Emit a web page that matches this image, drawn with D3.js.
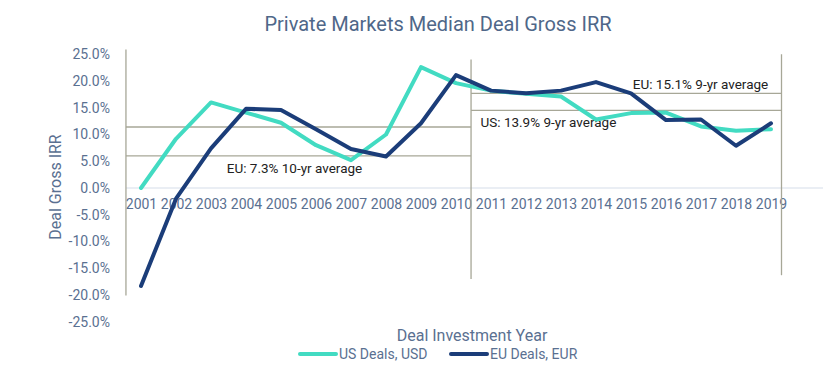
<!DOCTYPE html>
<html>
<head>
<meta charset="utf-8">
<script src="https://cdn.jsdelivr.net/npm/d3@7"></script>
<style>
  body { margin: 0; background: #fff; }
  svg text { font-family: Roboto, "Noto Sans", sans-serif; }
</style>
</head>
<body>
<svg id="chart" width="827" height="374"></svg>
<script>
var years = [2001, 2002, 2003, 2004, 2005, 2006, 2007, 2008, 2009, 2010,
  2011, 2012, 2013, 2014, 2015, 2016, 2017, 2018, 2019];
var usDeals = [0.0, 9.2, 16.0, 14.1, 12.2, 8.0, 5.2, 10.0, 22.6, 19.6,
  18.2, 17.6, 17.1, 12.8, 14.0, 14.1, 11.5, 10.7, 11.0];
var euDeals = [-18.3, -2.0, 7.4, 14.8, 14.6, 11.0, 7.3, 5.9, 12.1, 21.1,
  18.2, 17.7, 18.2, 19.8, 17.7, 12.7, 12.8, 7.9, 12.1];
var yTicks = [-25, -20, -15, -10, -5, 0, 5, 10, 15, 20, 25];

// average lines, drawn where the source picture puts them
var avgFrom = [2000.57, 2000.57, 2010.43, 2010.43];
var avgTo = [2010.43, 2010.43, 2019.3, 2019.3];
var avgLevel = [11.4, 6.0, 17.7, 14.5];
// period boundaries (year position, top and bottom value)
var boundYear = [2000.57, 2010.43, 2019.3];
var boundTop = [25.9, 24.0, 25.0];
var boundBottom = [-20.1, -17.0, -16.3];

var avgLabels = [
  { text: "EU: 7.3% 10-yr average", year: 2003.45, level: 2.75 },
  { text: "EU: 15.1% 9-yr average", year: 2015.05, level: 18.55 },
  { text: "US: 13.9% 9-yr average", year: 2010.7, level: 11.35 }
];

var seriesNames = ["US Deals, USD", "EU Deals, EUR"];
var colors = ["#42dbc2", "#1b3d79"];

var svg = d3.select("#chart");
var width = +svg.attr("width");

var x = d3.scaleLinear().domain([2001, 2019]).range([141, 771]);
var y = d3.scaleLinear().domain([-25, 25]).range([321.75, 54.25]);

var textColor = "#5a7091";

// title
svg.append("text")
  .attr("x", 438)
  .attr("y", 31)
  .attr("text-anchor", "middle")
  .style("font-size", "20px")
  .style("fill", "#4f6789")
  .text("Private Markets Median Deal Gross IRR");

// zero line
svg.append("line")
  .attr("x1", x(boundYear[0]))
  .attr("x2", width - 4)
  .attr("y1", y(0))
  .attr("y2", y(0))
  .style("stroke", "#d6dee9")
  .style("stroke-width", 1.2);

// y axis
var yAxis = svg.append("g")
  .attr("transform", "translate(" + x(boundYear[0]) + ",0)")
  .call(d3.axisLeft(y)
    .tickValues(yTicks)
    .tickSize(0)
    .tickPadding(16)
    .tickFormat(function (d) { return d.toFixed(1) + "%"; }));
yAxis.select(".domain").remove();
yAxis.selectAll("text")
  .style("font-size", "14px")
  .style("fill", textColor);

// x axis
var xAxis = svg.append("g")
  .attr("transform", "translate(0," + y(0) + ")")
  .call(d3.axisBottom(x)
    .tickValues(years)
    .tickSize(0)
    .tickPadding(11)
    .tickFormat(d3.format("d")));
xAxis.select(".domain").remove();
xAxis.selectAll("text")
  .style("font-size", "14px")
  .style("fill", textColor);

// average annotation lines
var annoColor = "#a7a797";
svg.append("g").selectAll("line")
  .data(avgLevel)
  .enter()
  .append("line")
  .attr("x1", function (d, i) { return x(avgFrom[i]); })
  .attr("x2", function (d, i) { return x(avgTo[i]); })
  .attr("y1", function (d) { return y(d); })
  .attr("y2", function (d) { return y(d); })
  .style("stroke", annoColor)
  .style("stroke-width", 1.3);

svg.append("g").selectAll("line")
  .data(boundYear)
  .enter()
  .append("line")
  .attr("x1", function (d) { return x(d); })
  .attr("x2", function (d) { return x(d); })
  .attr("y1", function (d, i) { return y(boundTop[i]); })
  .attr("y2", function (d, i) { return y(boundBottom[i]); })
  .style("stroke", annoColor)
  .style("stroke-width", 1.3);

svg.append("g").selectAll("text")
  .data(avgLabels)
  .enter()
  .append("text")
  .attr("x", function (d) { return x(d.year); })
  .attr("y", function (d) { return y(d.level); })
  .style("font-size", "13.5px")
  .style("fill", "#222")
  .text(function (d) { return d.text; });

// series lines
var line = d3.line()
  .x(function (d, i) { return x(years[i]); })
  .y(function (d) { return y(d); });

svg.append("g").selectAll("path")
  .data([usDeals, euDeals])
  .enter()
  .append("path")
  .attr("d", line)
  .style("fill", "none")
  .style("stroke", function (d, i) { return colors[i]; })
  .style("stroke-width", 4)
  .style("stroke-linejoin", "round")
  .style("stroke-linecap", "round");

// axis titles
svg.append("text")
  .attr("transform", "translate(61,187) rotate(-90)")
  .attr("text-anchor", "middle")
  .style("font-size", "16px")
  .style("fill", textColor)
  .text("Deal Gross IRR");

svg.append("text")
  .attr("x", 472)
  .attr("y", 341)
  .attr("text-anchor", "middle")
  .style("font-size", "16px")
  .style("fill", textColor)
  .text("Deal Investment Year");

// legend
var legendX = [300, 451];
var legend = svg.append("g").selectAll("g")
  .data(seriesNames)
  .enter()
  .append("g")
  .attr("transform", function (d, i) { return "translate(" + legendX[i] + ",354)"; });

legend.append("line")
  .attr("x1", 0)
  .attr("x2", 36)
  .style("stroke", function (d, i) { return colors[i]; })
  .style("stroke-width", 4)
  .style("stroke-linecap", "round");

legend.append("text")
  .attr("x", 39)
  .attr("y", 5)
  .style("font-size", "14px")
  .style("fill", textColor)
  .text(function (d) { return d; });
</script>
</body>
</html>
